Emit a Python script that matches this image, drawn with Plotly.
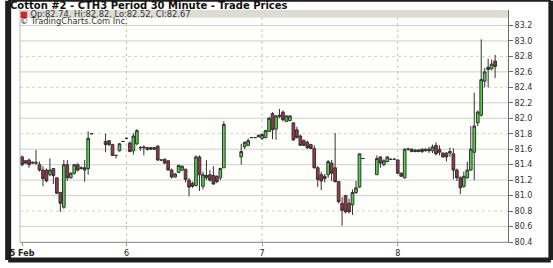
import plotly.graph_objects as go

# ---- data (30-minute bars, x = bar slot index) ----
slots = [0, 1, 2, 3, 4, 5, 6, 7, 8, 9, 10, 11, 12, 13, 14, 15, 16, 17, 18, 19, 20,
         24, 25, 26, 27, 28, 29, 30, 31, 32, 33, 34, 35, 36, 37, 38, 39, 40, 41, 42,
         43, 44, 45, 46, 47, 48, 49, 50, 51, 52, 53, 54, 55, 56, 57, 58,
         63, 64, 65, 66, 67, 68, 69, 70, 71, 72, 73, 74, 75, 76, 77, 78, 79, 80, 81,
         82, 83, 84, 85, 86, 87, 88, 89, 90, 91, 92, 93, 94, 95, 96, 97, 98,
         102, 103, 104, 105, 106, 107, 108, 109, 110, 111, 112, 113, 114, 115, 116,
         117, 118, 119, 120, 121, 122, 123, 124, 125, 126, 127, 128, 129, 130, 131,
         132, 133, 134, 135, 136]
opens = [81.50, 81.45, 81.46, 81.42, 81.43, 81.40, 81.33, 81.33, 81.27, 81.35, 81.23,
         81.04, 80.85, 81.40, 81.23, 81.29, 81.40, 81.36, 81.36, 81.35, 81.80,
         81.70, 81.71, 81.66, 81.52, 81.58, 81.70, 81.74, 81.68, 81.58, 81.67, 81.62,
         81.63, 81.62, 81.62, 81.62, 81.64, 81.46, 81.47, 81.45,
         81.33, 81.24, 81.30, 81.33, 81.34, 81.20, 81.16, 81.13, 81.50, 81.12, 81.26,
         81.27, 81.26, 81.25, 81.23, 81.36,
         81.50, 81.63, 81.65, 81.75, 81.75, 81.78, 81.74, 81.75, 81.83, 82.06, 81.86,
         82.02, 82.08, 81.96, 81.97, 81.94, 81.85, 81.77, 81.71,
         81.69, 81.66, 81.61, 81.36, 81.27, 81.25, 81.27, 81.42, 81.36, 81.18, 80.90,
         81.00, 80.90, 80.88, 81.04, 81.11, 81.48,
         81.27, 81.50, 81.40, 81.44, 81.47, 81.47, 81.46, 81.29, 81.23, 81.60, 81.60,
         81.59, 81.59, 81.60, 81.60,
         81.60, 81.58, 81.65, 81.60, 81.55, 81.55, 81.55, 81.54, 81.33, 81.23, 81.12,
         81.23, 81.33, 81.56, 81.94,
         82.04, 82.48, 82.66, 82.64, 82.74]
highs = [81.52, 81.46, 81.48, 81.44, 81.59, 81.44, 81.38, 81.35, 81.48, 81.35, 81.23,
         81.05, 81.46, 81.46, 81.30, 81.41, 81.42, 81.38, 81.46, 81.83, 81.80,
         81.80, 81.72, 81.67, 81.52, 81.68, 81.70, 81.74, 81.70, 81.81, 81.86, 81.64,
         81.65, 81.63, 81.63, 81.63, 81.65, 81.46, 81.48, 81.46,
         81.35, 81.29, 81.40, 81.39, 81.35, 81.23, 81.18, 81.52, 81.52, 81.31, 81.46,
         81.33, 81.38, 81.26, 81.36, 81.96,
         81.67, 81.70, 81.74, 81.75, 81.75, 81.79, 81.80, 81.85, 82.02, 82.08, 82.04,
         82.12, 82.10, 82.04, 82.04, 81.95, 81.89, 81.79, 81.73,
         81.71, 81.67, 81.65, 81.38, 81.31, 81.28, 81.46, 81.46, 81.81, 81.19, 80.98,
         81.01, 80.96, 81.08, 81.19, 81.54, 81.48,
         81.52, 81.51, 81.47, 81.51, 81.47, 81.47, 81.47, 81.30, 81.61, 81.62, 81.61,
         81.60, 81.60, 81.61, 81.61,
         81.63, 81.66, 81.69, 81.65, 81.56, 81.56, 81.62, 81.61, 81.35, 81.25, 81.31,
         81.44, 81.90, 82.33, 82.10,
         83.02, 82.65, 82.77, 82.76, 82.82]
lows = [81.38, 81.41, 81.36, 81.41, 81.40, 81.31, 81.12, 81.17, 81.25, 81.15, 81.02,
        80.79, 80.83, 81.19, 81.22, 81.27, 81.31, 81.34, 81.18, 81.27, 81.80,
        81.56, 81.64, 81.52, 81.48, 81.57, 81.70, 81.74, 81.56, 81.53, 81.65, 81.58,
        81.52, 81.58, 81.59, 81.59, 81.45, 81.46, 81.41, 81.33,
        81.22, 81.23, 81.29, 81.32, 81.17, 80.99, 81.10, 81.12, 81.06, 81.08, 81.20,
        81.18, 81.14, 81.16, 81.20, 81.36,
        81.40, 81.60, 81.64, 81.75, 81.75, 81.76, 81.72, 81.74, 81.82, 81.73, 81.72,
        82.00, 81.96, 81.95, 81.96, 81.71, 81.74, 81.65, 81.64,
        81.60, 81.60, 81.35, 81.11, 81.07, 81.17, 81.23, 81.19, 81.17, 80.90, 80.61,
        80.77, 80.77, 80.75, 81.02, 81.10, 81.48,
        81.27, 81.36, 81.38, 81.43, 81.47, 81.47, 81.28, 81.24, 81.22, 81.58, 81.56,
        81.56, 81.56, 81.55, 81.57,
        81.55, 81.55, 81.52, 81.52, 81.49, 81.44, 81.50, 81.21, 81.19, 81.02, 81.10,
        81.22, 81.32, 81.20, 81.90,
        82.02, 82.40, 82.40, 82.62, 82.52]
closes = [81.40, 81.42, 81.40, 81.43, 81.42, 81.33, 81.22, 81.19, 81.33, 81.26, 81.03,
          80.90, 81.40, 81.23, 81.29, 81.40, 81.33, 81.35, 81.33, 81.74, 81.80,
          81.66, 81.66, 81.52, 81.52, 81.67, 81.70, 81.74, 81.57, 81.77, 81.84, 81.62,
          81.62, 81.60, 81.60, 81.60, 81.46, 81.46, 81.42, 81.33,
          81.24, 81.28, 81.39, 81.38, 81.21, 81.11, 81.12, 81.50, 81.27, 81.27, 81.23,
          81.20, 81.15, 81.18, 81.35, 81.92,
          81.57, 81.69, 81.71, 81.75, 81.75, 81.76, 81.79, 81.84, 82.00, 81.85, 82.03,
          82.04, 81.98, 82.03, 82.03, 81.72, 81.75, 81.65, 81.65,
          81.62, 81.61, 81.36, 81.21, 81.19, 81.22, 81.44, 81.29, 81.18, 80.92, 80.81,
          80.79, 80.79, 81.04, 81.10, 81.54, 81.48,
          81.48, 81.42, 81.45, 81.50, 81.47, 81.47, 81.29, 81.25, 81.60, 81.60, 81.57,
          81.57, 81.57, 81.57, 81.58,
          81.58, 81.63, 81.54, 81.56, 81.50, 81.50, 81.57, 81.33, 81.23, 81.10, 81.25,
          81.33, 81.60, 81.90, 82.08,
          82.50, 82.60, 82.63, 82.70, 82.67]

day_ticks = [0, 30, 69, 108]
day_labels = ["<b>5 Feb</b>", "6", "7", "8"]
price_ticks = [80.4, 80.6, 80.8, 81.0, 81.2, 81.4, 81.6, 81.8,
               82.0, 82.2, 82.4, 82.6, 82.8, 83.0, 83.2]
dotted_levels = [80.8, 81.8, 82.4, 82.8]

title_text = "Cotton #2 - CTH3 Period 30 Minute - Trade Prices"
source_text = "\u00a9 TradingCharts.Com Inc."

# ---- layout constants ----
W, H = 553, 268
ML, MR, MT, MB = 13, 45, 10, 20
PW, PH = W - ML - MR, H - MT - MB
FONT = "DejaVu Sans"


def px_x(p):
    return (p - ML) / PW


def px_y(p):
    return (H - MB - p) / PH


fig = go.Figure()
fig.add_trace(go.Candlestick(
    x=slots, open=opens, high=highs, low=lows, close=closes,
    increasing=dict(fillcolor="#4cd64c", line=dict(color="#333333", width=1)),
    decreasing=dict(fillcolor="#a3334a", line=dict(color="#333333", width=1)),
    whiskerwidth=0, showlegend=False, hoverinfo="skip",
))

shapes = []
for lv in price_ticks:
    shapes.append(dict(type="line", xref="x domain", x0=0, x1=1, yref="y", y0=lv, y1=lv,
                       line=dict(color="#cfcfcf", width=1,
                                 dash="dot" if lv in dotted_levels else "solid"),
                       layer="below"))
for d in day_ticks[1:]:
    shapes.append(dict(type="line", xref="x", x0=d, x1=d, yref="y domain", y0=0, y1=1,
                       line=dict(color="#c4c4c4", width=1, dash="dot"), layer="below"))
# legend band
shapes.append(dict(type="rect", xref="x domain", x0=0, x1=1, yref="y domain",
                   y0=1 - 8 / PH, y1=1, fillcolor="#dcdcd5", line=dict(width=0),
                   layer="below"))
# left plot border
shapes.append(dict(type="line", xref="x domain", x0=0, x1=0, yref="y domain", y0=0, y1=1,
                   line=dict(color="#b8b8b8", width=1)))
# outer frame
fx0, fx1 = px_x(1), px_x(W - 1.5)
fy0, fy1 = px_y(H - 1.5), px_y(0.5)
for x0, y0, x1, y1, w in [(fx0, fy0, fx0, fy1, 6), (fx1, fy0, fx1, fy1, 5),
                          (fx0, fy0, fx1, fy0, 5), (fx0, fy1, fx1, fy1, 2)]:
    shapes.append(dict(type="line", xref="paper", yref="paper", x0=x0, y0=y0, x1=x1, y1=y1,
                       line=dict(color="#1e1e1e", width=w)))

last = len(slots) - 1
ohlc_text = (f"<span style='color:#cc2a2a'>\u25a0</span> Op:{opens[last]:.2f}, "
             f"Hi:{highs[last]:.2f}, Lo:{lows[last]:.2f}, Cl:{closes[last]:.2f}")

annotations = [
    dict(text=ohlc_text, xref="paper", yref="paper", x=px_x(12), y=px_y(14.5),
         xanchor="left", yanchor="middle", showarrow=False, borderpad=0,
         font=dict(family=FONT, size=8.3, color="#333")),
    dict(text=source_text, xref="paper", yref="paper", x=px_x(12), y=px_y(21.5),
         xanchor="left", yanchor="middle", showarrow=False, borderpad=0,
         font=dict(family=FONT, size=8.3, color="#333")),
]

fig.update_layout(
    width=W, height=H,
    margin=dict(l=ML, r=MR, t=MT, b=MB),
    paper_bgcolor="white", plot_bgcolor="#fefefa",
    boxgap=0.15, boxgroupgap=0.1,
    title=dict(text=f"<b>{title_text}</b>", xref="container", yref="container",
               x=10 / W, xanchor="left", y=1 - 5.5 / H, yanchor="middle",
               pad=dict(t=0, b=0, l=0, r=0),
               font=dict(family=FONT, size=10, color="#111")),
    shapes=shapes, annotations=annotations,
    xaxis=dict(range=[-0.6, 139.7], rangeslider=dict(visible=False),
               tickvals=day_ticks, ticktext=day_labels, showgrid=False, zeroline=False,
               showline=True, linecolor="#9a9a9a", ticks="outside", ticklen=3,
               tickcolor="#9a9a9a",
               tickfont=dict(family=FONT, size=8, color="#222")),
    yaxis=dict(range=[80.4, 83.40], side="right", tickvals=price_ticks,
               ticktext=[f"{v:.1f}" for v in price_ticks], showgrid=False, zeroline=False,
               showline=True, linecolor="#6a6a6a", ticks="outside", ticklen=4,
               tickcolor="#6a6a6a",
               tickfont=dict(family=FONT, size=8, color="#333")),
)

fig.write_html("out.html")
